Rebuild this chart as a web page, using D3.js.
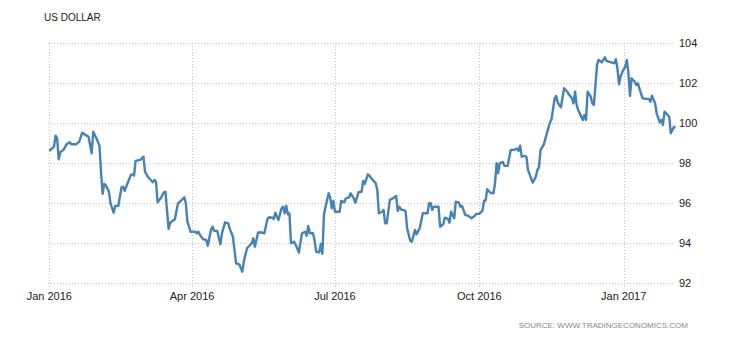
<!DOCTYPE html>
<html><head><meta charset="utf-8">
<script src="https://cdn.jsdelivr.net/npm/d3@7"></script>
<style>body{margin:0;background:#fff}svg{display:block}</style>
</head><body>
<script>
const title = "US DOLLAR";
const source = "SOURCE: WWW.TRADINGECONOMICS.COM";
const yTicks = [92, 94, 96, 98, 100, 102, 104];
const xTicks = ["2016-01-01", "2016-04-01", "2016-07-01", "2016-10-01", "2017-01-01"];
const xTickLabels = ["Jan 2016", "Apr 2016", "Jul 2016", "Oct 2016", "Jan 2017"];
const dates = [
"2016-01-01","2016-01-04","2016-01-05","2016-01-06","2016-01-07","2016-01-08","2016-01-10","2016-01-12","2016-01-14","2016-01-15",
"2016-01-18","2016-01-20","2016-01-22","2016-01-24","2016-01-26","2016-01-28","2016-01-29","2016-01-31","2016-02-02","2016-02-03",
"2016-02-04","2016-02-05","2016-02-06","2016-02-08","2016-02-09","2016-02-11","2016-02-12","2016-02-14","2016-02-16","2016-02-17",
"2016-02-18","2016-02-20","2016-02-22","2016-02-23","2016-02-24","2016-02-25","2016-02-28","2016-03-01","2016-03-02","2016-03-04",
"2016-03-07","2016-03-08","2016-03-09","2016-03-10","2016-03-12","2016-03-14","2016-03-15","2016-03-17","2016-03-18","2016-03-21",
"2016-03-23","2016-03-25","2016-03-27","2016-03-28","2016-03-29","2016-03-31","2016-04-03","2016-04-04","2016-04-05","2016-04-06",
"2016-04-08","2016-04-10","2016-04-11","2016-04-13","2016-04-14","2016-04-15","2016-04-17","2016-04-19","2016-04-20","2016-04-22",
"2016-04-24","2016-04-25","2016-04-27","2016-04-29","2016-05-01","2016-05-03","2016-05-04","2016-05-06","2016-05-09","2016-05-10",
"2016-05-11","2016-05-13","2016-05-15","2016-05-17","2016-05-19","2016-05-20","2016-05-22","2016-05-23","2016-05-24","2016-05-26",
"2016-05-28","2016-05-29","2016-05-30","2016-05-31","2016-06-01","2016-06-02","2016-06-03","2016-06-05","2016-06-07","2016-06-08",
"2016-06-10","2016-06-12","2016-06-13","2016-06-14","2016-06-15","2016-06-17","2016-06-18","2016-06-19","2016-06-21","2016-06-22",
"2016-06-23","2016-06-24","2016-06-25","2016-06-27","2016-06-28","2016-06-29","2016-06-30","2016-07-01","2016-07-04","2016-07-05",
"2016-07-07","2016-07-08","2016-07-10","2016-07-11","2016-07-13","2016-07-14","2016-07-16","2016-07-18","2016-07-19","2016-07-20",
"2016-07-22","2016-07-23","2016-07-25","2016-07-27","2016-07-28","2016-07-29","2016-07-31","2016-08-01","2016-08-02","2016-08-03",
"2016-08-05","2016-08-07","2016-08-09","2016-08-10","2016-08-11","2016-08-12","2016-08-15","2016-08-16","2016-08-18","2016-08-19",
"2016-08-21","2016-08-22","2016-08-24","2016-08-26","2016-08-29","2016-08-30","2016-08-31","2016-09-01","2016-09-02","2016-09-05",
"2016-09-06","2016-09-08","2016-09-09","2016-09-11","2016-09-12","2016-09-13","2016-09-15","2016-09-16","2016-09-18","2016-09-19",
"2016-09-20","2016-09-22","2016-09-24","2016-09-26","2016-09-28","2016-09-29","2016-10-01","2016-10-03","2016-10-04","2016-10-05",
"2016-10-06","2016-10-08","2016-10-10","2016-10-11","2016-10-12","2016-10-13","2016-10-14","2016-10-16","2016-10-17","2016-10-19",
"2016-10-21","2016-10-23","2016-10-25","2016-10-26","2016-10-27","2016-10-28","2016-10-30","2016-10-31","2016-11-01","2016-11-03",
"2016-11-04","2016-11-06","2016-11-07","2016-11-08","2016-11-09","2016-11-11","2016-11-13","2016-11-15","2016-11-16","2016-11-18",
"2016-11-19","2016-11-20","2016-11-22","2016-11-24","2016-11-26","2016-11-27","2016-11-29","2016-11-30","2016-12-01","2016-12-02",
"2016-12-03","2016-12-05","2016-12-06","2016-12-07","2016-12-08","2016-12-09","2016-12-11","2016-12-12","2016-12-13","2016-12-15",
"2016-12-16","2016-12-18","2016-12-20","2016-12-21","2016-12-24","2016-12-26","2016-12-27","2016-12-28","2016-12-29","2016-12-30",
"2016-12-31","2017-01-02","2017-01-03","2017-01-04","2017-01-05","2017-01-06","2017-01-08","2017-01-09","2017-01-10","2017-01-11",
"2017-01-13","2017-01-15","2017-01-17","2017-01-18","2017-01-19","2017-01-21","2017-01-22","2017-01-24","2017-01-25","2017-01-26",
"2017-01-27","2017-01-28","2017-01-30","2017-01-31","2017-02-02","2017-02-03"
];
const values = [
98.62,98.83,99.38,99.25,98.20,98.55,98.67,98.95,99.05,98.95,
98.95,99.07,99.53,99.42,99.33,98.50,99.58,99.25,98.87,97.50,
96.47,96.97,96.92,96.58,96.00,95.53,95.87,95.88,96.80,96.83,
96.62,97.03,97.42,97.45,97.38,98.12,98.17,98.33,97.58,97.30,
97.05,97.17,97.08,96.05,96.25,96.55,96.58,94.72,95.03,95.20,
96.00,96.13,96.30,96.00,95.08,94.58,94.58,94.50,94.58,94.42,
94.20,94.17,93.88,94.67,94.83,94.63,94.62,93.95,94.50,95.05,
95.00,94.72,94.33,93.00,92.95,92.58,93.12,93.75,94.00,94.25,
93.83,94.53,94.55,94.50,95.22,95.30,95.28,95.22,95.53,95.17,
95.75,95.83,95.50,95.88,95.45,95.50,94.00,94.08,93.75,93.53,
94.50,94.58,94.38,94.87,94.50,94.50,94.17,93.58,93.55,93.97,
93.47,95.42,95.83,96.50,96.28,95.75,96.12,95.58,95.58,96.12,
96.05,96.25,96.30,96.50,96.25,96.03,96.55,96.58,97.12,96.97,
97.45,97.38,97.17,97.00,96.67,95.50,95.58,95.67,95.00,95.00,
96.17,96.25,96.37,95.62,95.83,95.70,95.62,94.75,94.12,94.08,
94.67,94.45,94.75,95.50,95.50,96.00,96.00,95.67,95.83,95.83,
94.83,94.95,95.28,95.22,95.03,95.58,95.25,96.08,96.03,95.83,
95.87,95.42,95.37,95.25,95.37,95.47,95.47,95.63,96.13,96.13,
96.70,96.53,96.50,97.00,98.00,97.50,98.00,98.07,97.87,97.87,
98.67,98.67,98.73,98.63,98.88,98.33,98.37,98.33,97.67,97.25,
97.03,97.33,97.67,97.80,98.67,98.92,99.50,100.03,100.20,101.25,
101.37,101.03,100.80,101.75,101.58,101.45,101.25,101.00,101.58,100.92,
100.67,100.33,100.17,100.42,100.17,101.58,101.33,101.00,100.92,102.92,
103.17,103.05,103.30,103.12,103.05,103.00,103.20,102.75,101.95,102.33,
102.55,102.83,103.17,102.50,101.37,102.25,102.08,101.92,102.00,101.75,
101.25,101.22,101.22,101.08,101.38,101.00,100.50,100.05,100.17,99.92,
100.58,100.50,100.33,99.50,99.83,99.78
];

const W = 730, H = 340;
const parse = d3.utcParse("%Y-%m-%d");
const data = dates.map((d, i) => ({date: parse(d), value: values[i]}));

const svg = d3.select("body").append("svg").attr("width", W).attr("height", H);
const x = d3.scaleUtc().domain([parse("2016-01-01"), parse("2017-02-03")]).range([49.3, 675.5]);
const y = d3.scaleLinear().domain([92, 104]).range([283.3, 43.3]);
const gridColor = "#c4c4c4";
const font = "'Liberation Sans', Arial, sans-serif";

// horizontal grid
svg.append("g").selectAll("line").data(yTicks).join("line")
  .attr("x1", 48).attr("x2", 675)
  .attr("y1", d => Math.round(y(d)) + 0.5).attr("y2", d => Math.round(y(d)) + 0.5)
  .attr("stroke", gridColor).attr("stroke-width", 1).attr("stroke-dasharray", "1,2");

// vertical grid
svg.append("g").selectAll("line").data(xTicks).join("line")
  .attr("x1", d => Math.round(x(parse(d))) + 0.5).attr("x2", d => Math.round(x(parse(d))) + 0.5)
  .attr("y1", 43).attr("y2", 289)
  .attr("stroke", gridColor).attr("stroke-width", 1).attr("stroke-dasharray", "1,2");

// y labels (right)
svg.append("g").selectAll("text").data(yTicks).join("text")
  .attr("x", 679).attr("y", d => y(d)).attr("dy", "0.35em")
  .attr("font-family", font).attr("font-size", 11).attr("fill", "#222")
  .text(d => d);

// x labels
svg.append("g").selectAll("text").data(xTicks).join("text")
  .attr("x", d => x(parse(d))).attr("y", 300)
  .attr("text-anchor", "middle")
  .attr("font-family", font).attr("font-size", 11).attr("fill", "#222")
  .text((d, i) => xTickLabels[i]);

// line
const line = d3.line().x(d => x(d.date)).y(d => y(d.value));
svg.append("path").datum(data)
  .attr("fill", "none").attr("stroke", "#4682b4").attr("stroke-width", 2.4)
  .attr("stroke-linejoin", "round").attr("d", line);

// title
svg.append("text").attr("x", 44).attr("y", 21)
  .attr("font-family", font).attr("font-size", 10).attr("fill", "#1a1a1a")
  .text(title);

// source
svg.append("text").attr("x", 688).attr("y", 328).attr("text-anchor", "end")
  .attr("font-family", font).attr("font-size", 8).attr("fill", "#888")
  .text(source);
</script>
</body></html>
